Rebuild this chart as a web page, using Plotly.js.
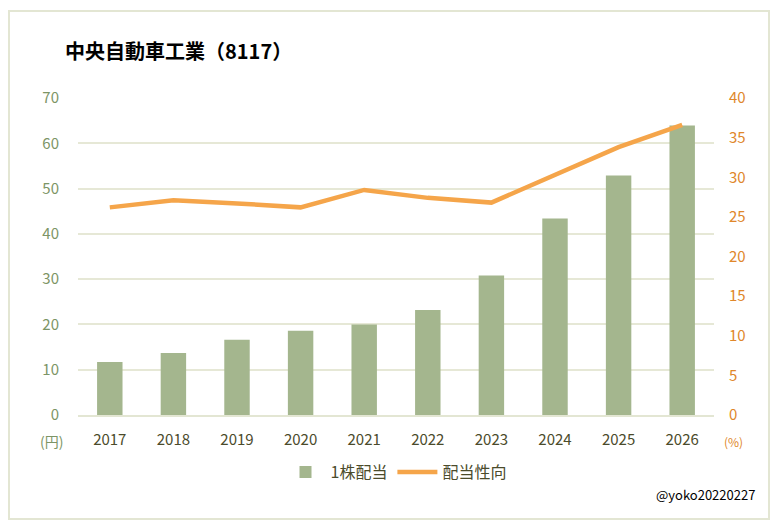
<!DOCTYPE html>
<html>
<head>
<meta charset="utf-8">
<script src="https://cdn.plot.ly/plotly-3.0.1.min.js"></script>
<style>
html,body{margin:0;padding:0;background:#fff;}
#chart{width:778px;height:526px;}
</style>
</head>
<body>
<div id="chart"></div>
<script>
const years = ['2017','2018','2019','2020','2021','2022','2023','2024','2025','2026'];
const dividend = [11.7, 13.7, 16.6, 18.6, 20.0, 23.2, 30.8, 43.4, 52.9, 63.9];
const payoutRatio = [26.2, 27.1, 26.7, 26.2, 28.4, 27.4, 26.8, 30.3, 33.8, 36.6];
const titleText = '中央自動車工業（8117）';
const barName = '1株配当';
const lineName = '配当性向';

const font = 'Noto Sans CJK JP, Noto Sans, sans-serif';

const traces = [
  {
    type: 'bar', x: years, y: dividend, name: barName,
    marker: {color: '#a4b68e'}, width: 0.4, yaxis: 'y'
  },
  {
    type: 'scatter', mode: 'lines', x: years, y: payoutRatio, name: lineName,
    line: {color: '#f5a54a', width: 4.5}, yaxis: 'y2'
  }
];

const pw = 778 - 78 - 64, ph = 526 - 98 - 111;
const px = x => (x - 78) / pw;
const py = y => (526 - 111 - y) / ph;

const layout = {
  width: 778, height: 526,
  margin: {l: 78, r: 64, t: 98, b: 111},
  paper_bgcolor: '#fff', plot_bgcolor: '#fff',
  font: {family: font},
  title: {text: '<b>' + titleText + '</b>', font: {size: 20, color: '#000', family: font},
          x: 65/778, xanchor: 'left', y: 1 - 52/526, yanchor: 'middle'},
  xaxis: {
    type: 'category', showgrid: false, zeroline: false,
    showline: true, linecolor: '#e3e6d3', linewidth: 2,
    tickfont: {size: 15, color: '#4b4b2b'}, ticks: '', ticklabelstandoff: 10
  },
  yaxis: {
    range: [0, 70], dtick: 10, gridcolor: '#e6e8d6', gridwidth: 2,
    zeroline: false, showline: false,
    tickfont: {size: 15, color: '#7d9566'}, ticks: '', ticklabelstandoff: 18
  },
  yaxis2: {
    range: [0, 40], dtick: 5, overlaying: 'y', side: 'right',
    showgrid: false, zeroline: false, showline: false,
    tickfont: {size: 15, color: '#e0872a'}, ticks: '', ticklabelstandoff: 14
  },
  showlegend: true,
  legend: {orientation: 'h', x: 0.5, xanchor: 'center', y: py(472), yanchor: 'middle',
           font: {size: 16, color: '#4b4b2b'}, traceorder: 'normal', itemwidth: 40},
  bargap: 0.6,
  annotations: [
    {text: '(円)', xref: 'paper', yref: 'paper', x: px(51), y: py(441), showarrow: false,
     font: {size: 14, color: '#7d9566'}, xanchor: 'center', yanchor: 'middle'},
    {text: '(%)', xref: 'paper', yref: 'paper', x: px(733), y: py(441), showarrow: false,
     font: {size: 12, color: '#e0872a'}, xanchor: 'center', yanchor: 'middle'},
    {text: '@yoko20220227', xref: 'paper', yref: 'paper', x: px(757), y: py(494), showarrow: false,
     font: {size: 13, color: '#000'}, xanchor: 'right', yanchor: 'middle'}
  ],
  shapes: [
    {type: 'rect', xref: 'paper', yref: 'paper', x0: px(9), x1: px(769), y0: py(519), y1: py(11),
     line: {color: '#e3e6d3', width: 2}, layer: 'below'}
  ]
};

Plotly.newPlot('chart', traces, layout, {displayModeBar: false, staticPlot: true});
</script>
</body>
</html>
